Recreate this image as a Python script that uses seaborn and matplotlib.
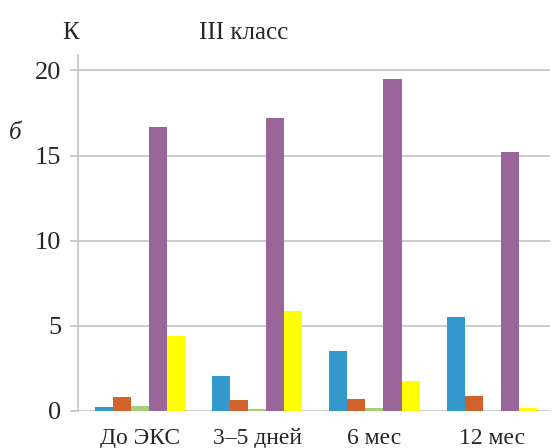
import numpy as np
import pandas as pd
import matplotlib
matplotlib.use("Agg")
import matplotlib.pyplot as plt
import seaborn as sns

# data
periods = ["До ЭКС", "3–5 дней", "6 мес", "12 мес"]
series_names = ["s1", "s2", "s3", "s4", "s5"]
s1 = [0.25, 2.05, 3.5, 5.5]
s2 = [0.85, 0.65, 0.7, 0.88]
s3 = [0.3, 0.1, 0.2, 0.0]
s4 = [16.7, 17.2, 19.5, 15.2]
s5 = [4.4, 5.9, 1.75, 0.15]
colors = ["#3399CC", "#D0622C", "#A3CF78", "#9A6699", "#FFFF00"]
yticks = [0, 5, 10, 15, 20]

rows = []
for name, vals in zip(series_names, [s1, s2, s3, s4, s5]):
    for p, v in zip(periods, vals):
        rows.append({"period": p, "series": name, "value": v})
df = pd.DataFrame(rows)

sns.set_theme(style="white")
plt.rcParams["font.family"] = ["Liberation Serif", "DejaVu Serif"]

fig = plt.figure(figsize=(5.53, 4.48), dpi=100)
ax = fig.add_axes([0.141, 0.0826, 0.854, 0.7946])

sns.barplot(data=df, x="period", y="value", hue="series", order=periods,
            hue_order=series_names, palette=colors, width=0.77, gap=0,
            saturation=1, linewidth=0, edgecolor="none", legend=False, ax=ax)

ax.set_ylim(0, 20.9)
ax.set_yticks(yticks)
ax.set_xlim(-0.53, 3.5)
ax.grid(axis="y", color="#C8C8C8", linewidth=1.3)
ax.set_axisbelow(True)
for side in ["top", "right", "bottom"]:
    ax.spines[side].set_visible(False)
ax.spines["left"].set_color("#C8C8C8")
ax.spines["left"].set_linewidth(1.3)
ax.tick_params(axis="y", length=6, width=1.3, color="#C8C8C8",
               labelsize=19, pad=6, left=True)
ax.tick_params(axis="x", length=0, labelsize=17, pad=12.5)
ax.set_xlabel("")
ax.set_ylabel("")

fig.text(0.127, 0.926, "К", fontsize=18, ha="center", va="center")
fig.text(0.441, 0.926, "III класс", fontsize=18, ha="center", va="center")
fig.text(0.027, 0.703, "б", fontsize=18, style="italic", ha="center", va="center")

fig.savefig("out.png", dpi=100)
